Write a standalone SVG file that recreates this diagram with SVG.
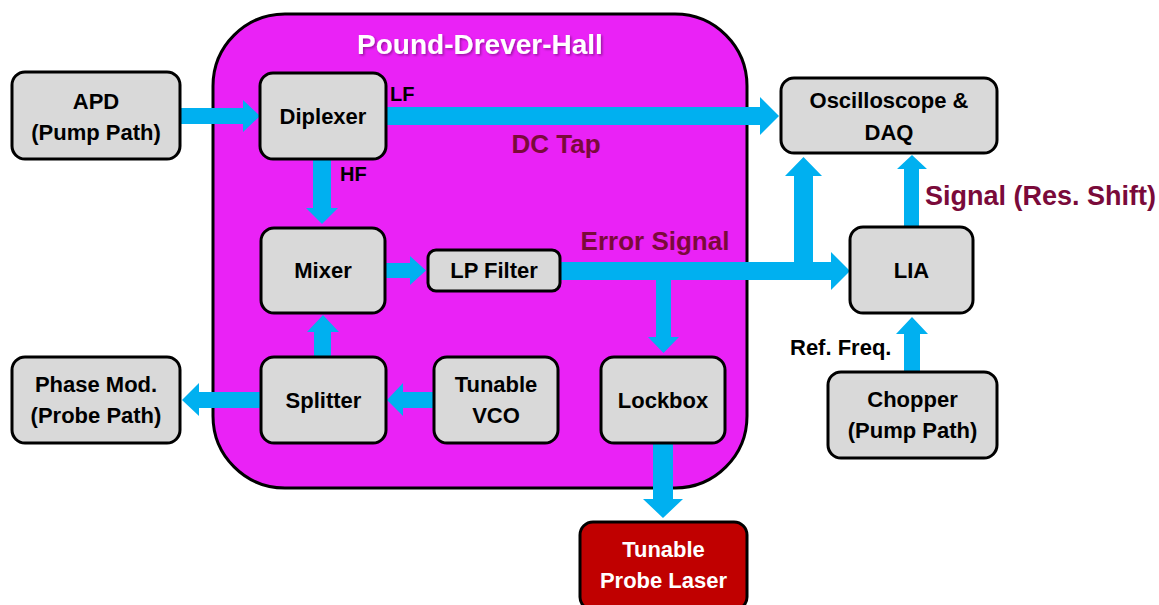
<svg xmlns="http://www.w3.org/2000/svg" width="1159" height="605" viewBox="0 0 1159 605">
<defs>
<filter id="sh" x="-5%" y="-20%" width="110%" height="150%"><feDropShadow dx="1.5" dy="1.5" stdDeviation="1" flood-color="#000" flood-opacity="0.35"/></filter>
</defs>
<style>
text{font-family:"Liberation Sans",Arial,sans-serif;font-weight:bold;}
.box{fill:#D9D9D9;stroke:#000;stroke-width:3;}
.lbl{font-size:22px;fill:#000;text-anchor:middle;}
.arr{fill:#00B0F0;}
.mar{fill:#7A0A3A;font-size:26px;}
</style>
<rect width="1159" height="605" fill="#fff"/>
<g id="pdh">
<rect x="213" y="14" width="534" height="474" rx="72" ry="72" fill="#EA22F6" stroke="#000" stroke-width="3"/>
<text x="480" y="54" font-size="28" fill="#fff" text-anchor="middle" filter="url(#sh)">Pound-Drever-Hall</text>
</g>
<g id="connectors">
<polygon class="arr" points="180,108 243,108 243,100 260,116 243,132 243,124 180,124"/>
<polygon class="arr" points="386,107 760,107 760,97 779,116 760,135 760,125 386,125"/>
<polygon class="arr" points="313,159 331,159 331,208 338,208 322,224 306,208 313,208"/>
<polygon class="arr" points="385,263 410,263 410,256 426,270.5 410,285 410,278 385,278"/>
<polygon class="arr" points="560,262 831,262 831,252 850,271 831,290 831,280 560,280"/>
<polygon class="arr" points="794,271 794,176 785,176 803.5,157 822,176 813,176 813,271"/>
<polygon class="arr" points="656,271 671,271 671,337 679,337 663.5,353 648,337 656,337"/>
<polygon class="arr" points="314,357 314,332 307,332 323,315 339,332 331,332 331,357"/>
<polygon class="arr" points="261,392 199,392 199,383 182,400 199,416 199,408 261,408"/>
<polygon class="arr" points="434,392 403,392 403,383 387,400 403,416 403,408 434,408"/>
<polygon class="arr" points="653,443 673,443 673,499 683,499 663,518 643,499 653,499"/>
<polygon class="arr" points="904,227 904,169 897,169 912,155 927,169 919,169 919,227"/>
<polygon class="arr" points="904,372 904,334 896,334 912,317 928,334 920,334 920,372"/>
<text x="390" y="101" font-size="20">LF</text>
<text x="340" y="181" font-size="20">HF</text>
<text class="mar" x="556" y="153" text-anchor="middle">DC Tap</text>
<text class="mar" x="655" y="250" text-anchor="middle">Error Signal</text>
<text class="mar" x="925" y="205" style="font-size:27px">Signal (Res. Shift)</text>
<text x="790" y="355" font-size="22">Ref. Freq.</text>
</g>
<g id="apd"><rect class="box" x="12" y="72" width="168" height="87" rx="13"/>
<text class="lbl" x="96" y="109">APD</text><text class="lbl" x="96" y="140">(Pump Path)</text></g>
<g id="diplexer"><rect class="box" x="260" y="73" width="126" height="86" rx="13"/>
<text class="lbl" x="323" y="124">Diplexer</text></g>
<g id="mixer"><rect class="box" x="261" y="228" width="124" height="85" rx="13"/>
<text class="lbl" x="323" y="278">Mixer</text></g>
<g id="lpfilter"><rect class="box" x="428" y="250" width="132" height="41" rx="8"/>
<text class="lbl" x="494" y="278" font-size="21">LP Filter</text></g>
<g id="splitter"><rect class="box" x="261" y="357" width="125" height="86" rx="13"/>
<text class="lbl" x="323.5" y="408">Splitter</text></g>
<g id="vco"><rect class="box" x="434" y="357" width="124" height="86" rx="13"/>
<text class="lbl" x="496" y="392">Tunable</text><text class="lbl" x="496" y="423">VCO</text></g>
<g id="lockbox"><rect class="box" x="601" y="357" width="124" height="86" rx="13"/>
<text class="lbl" x="663" y="408">Lockbox</text></g>
<g id="phasemod"><rect class="box" x="12" y="357" width="168" height="86" rx="13"/>
<text class="lbl" x="96" y="392">Phase Mod.</text><text class="lbl" x="96" y="423">(Probe Path)</text></g>
<g id="osc"><rect class="box" x="781" y="78" width="216" height="75" rx="13"/>
<text class="lbl" x="889" y="108">Oscilloscope &amp;</text><text class="lbl" x="889" y="140">DAQ</text></g>
<g id="lia"><rect class="box" x="850" y="227" width="123" height="86" rx="13"/>
<text class="lbl" x="911.5" y="278">LIA</text></g>
<g id="chopper"><rect class="box" x="828" y="372" width="169" height="86" rx="13"/>
<text class="lbl" x="912.5" y="407">Chopper</text><text class="lbl" x="912.5" y="438">(Pump Path)</text></g>
<g id="laser"><rect x="580" y="522" width="167" height="88" rx="13" fill="#C00000" stroke="#000" stroke-width="3"/>
<text class="lbl" x="663.5" y="557" style="fill:#fff">Tunable</text><text class="lbl" x="663.5" y="588" style="fill:#fff">Probe Laser</text></g>
</svg>
